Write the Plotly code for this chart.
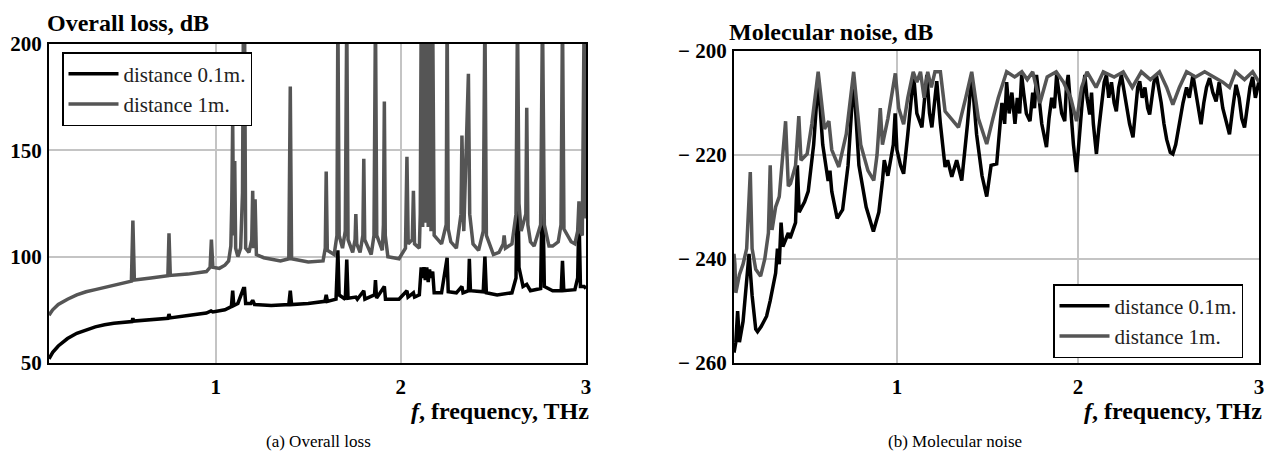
import plotly.graph_objects as go

# ---------------- data: (a) Overall loss, dB ----------------
loss_near_x = [0.10, 0.12, 0.15, 0.20, 0.25, 0.30, 0.35, 0.40, 0.45, 0.548, 0.553, 0.558, 0.65, 0.742, 0.748, 0.754,
               0.85, 0.95, 0.975, 0.985, 1.05, 1.085, 1.092, 1.098, 1.12, 1.15, 1.156, 1.162, 1.19, 1.20, 1.21, 1.30,
               1.395, 1.403, 1.41, 1.50, 1.59, 1.597, 1.604, 1.65, 1.66, 1.667, 1.70, 1.708, 1.715, 1.757, 1.765, 1.80,
               1.806, 1.858, 1.863, 1.869, 1.911, 1.917, 1.99, 2.033, 2.039, 2.068, 2.074, 2.10, 2.11, 2.118, 2.125, 2.132,
               2.14, 2.148, 2.155, 2.163, 2.172, 2.18, 2.22, 2.25, 2.256, 2.30, 2.33, 2.336, 2.365, 2.37, 2.376, 2.445,
               2.454, 2.462, 2.52, 2.60, 2.622, 2.63, 2.638, 2.66, 2.68, 2.70, 2.755, 2.765, 2.775, 2.82, 2.866, 2.873,
               2.88, 2.94, 2.955, 2.962, 2.97, 2.99, 3.00]
loss_near_y = [52, 55, 58, 61.5, 64, 65.5, 67, 68, 68.7, 69.5, 71, 69.7, 70.5, 71, 73, 71.2,
               72.3, 73.5, 74.5, 74, 75, 76.5, 84, 77, 78, 85, 85, 78, 78, 79.5, 77.5, 77,
               77.5, 84, 77.5, 78, 79, 82, 79, 80, 103, 82, 80, 98.6, 80.5, 81, 80, 84,
               80, 82, 89, 80.5, 86, 80, 80, 84, 81, 83, 81, 82, 95, 90, 95, 89,
               95, 88, 94, 90, 93, 83, 83, 99.5, 83.5, 83, 86, 83, 84, 99, 84, 83.5,
               100, 83, 82, 83, 90, 153, 95, 86, 87, 84, 85, 139, 86, 84, 84, 98,
               84, 84.5, 90, 121, 86, 86, 85]

loss_far_x = [0.10, 0.12, 0.15, 0.20, 0.25, 0.30, 0.35, 0.40, 0.45, 0.50, 0.545, 0.553, 0.561, 0.65, 0.742, 0.748,
              0.755, 0.85, 0.90, 0.95, 0.97, 0.977, 0.985, 1.02, 1.05, 1.07, 1.082, 1.087, 1.092, 1.097, 1.103, 1.108,
              1.12, 1.135, 1.145, 1.15, 1.156, 1.162, 1.18, 1.195, 1.20, 1.205, 1.213, 1.22, 1.26, 1.30, 1.35, 1.395,
              1.403, 1.41, 1.50, 1.58, 1.592, 1.597, 1.603, 1.64, 1.655, 1.66, 1.667, 1.685, 1.70, 1.708, 1.715, 1.74,
              1.753, 1.757, 1.762, 1.78, 1.795, 1.80, 1.805, 1.84, 1.855, 1.863, 1.87, 1.90, 1.906, 1.911, 1.916, 1.93,
              1.99, 2.025, 2.033, 2.04, 2.062, 2.068, 2.074, 2.10, 2.105, 2.11, 2.118, 2.125, 2.132, 2.14, 2.148, 2.155,
              2.163, 2.172, 2.18, 2.22, 2.245, 2.25, 2.256, 2.27, 2.30, 2.325, 2.33, 2.34, 2.355, 2.365, 2.372, 2.39,
              2.42, 2.445, 2.454, 2.462, 2.50, 2.53, 2.553, 2.558, 2.565, 2.60, 2.622, 2.63, 2.638, 2.65, 2.675, 2.68,
              2.686, 2.70, 2.72, 2.755, 2.765, 2.775, 2.80, 2.82, 2.85, 2.865, 2.873, 2.881, 2.92, 2.94, 2.955, 2.962,
              2.968, 2.98, 2.99, 3.00]
loss_far_y = [72.5, 75, 77.5, 80, 82, 83.5, 84.5, 85.5, 86.5, 87.5, 88.5, 117, 89, 90, 91, 111,
              91.2, 91.8, 92.3, 93, 95, 108, 95, 94.5, 96, 98, 105, 125, 164, 110, 145, 104,
              100, 104, 130, 215, 215, 104, 102, 108, 131, 104, 127, 101, 99.5, 99, 98, 99,
              180, 99, 97.5, 98, 104, 140, 103, 101, 110, 215, 110, 104, 112, 215, 108, 102,
              108, 120, 106, 102, 110, 146, 108, 101, 110, 215, 110, 103, 115, 173, 110, 100,
              99, 104, 147, 106, 108, 131, 106, 104, 120, 215, 114, 215, 116, 215, 114, 215,
              112, 215, 110, 106, 115, 215, 113, 107, 104, 120, 157, 112, 157, 186, 120, 106,
              103, 112, 215, 110, 101, 102, 106, 110, 104, 106, 120, 215, 125, 112, 120, 170,
              115, 107, 105, 115, 215, 115, 105, 105, 107, 115, 215, 113, 107, 106, 112, 126,
              112, 110, 215, 118]

# ---------------- data: (b) Molecular noise, dB ----------------
noise_near_x = [0.10, 0.11, 0.12, 0.13, 0.15, 0.17, 0.183, 0.20, 0.22, 0.23, 0.25, 0.28, 0.30, 0.33, 0.34, 0.35,
                0.36, 0.37, 0.40, 0.41, 0.44, 0.45, 0.46, 0.49, 0.51, 0.54, 0.565, 0.59, 0.62, 0.63, 0.64, 0.67,
                0.70, 0.73, 0.761, 0.79, 0.83, 0.87, 0.90, 0.92, 0.93, 0.95, 0.98, 0.99, 1.00, 1.02, 1.037, 1.06,
                1.092, 1.11, 1.138, 1.165, 1.18, 1.193, 1.22, 1.24, 1.266, 1.28, 1.303, 1.33, 1.358, 1.39, 1.413, 1.44,
                1.47, 1.496, 1.52, 1.551, 1.565, 1.58, 1.595, 1.606, 1.62, 1.635, 1.652, 1.665, 1.678, 1.689, 1.70, 1.715,
                1.735, 1.75, 1.76, 1.771, 1.785, 1.80, 1.826, 1.84, 1.855, 1.87, 1.882, 1.895, 1.91, 1.927, 1.936, 1.946,
                1.96, 1.975, 1.992, 2.005, 2.02, 2.03, 2.038, 2.05, 2.065, 2.075, 2.085, 2.102, 2.115, 2.13, 2.145, 2.157,
                2.17, 2.185, 2.20, 2.212, 2.225, 2.24, 2.255, 2.27, 2.285, 2.304, 2.32, 2.33, 2.341, 2.355, 2.37, 2.385,
                2.396, 2.41, 2.42, 2.433, 2.445, 2.46, 2.475, 2.49, 2.51, 2.524, 2.54, 2.56, 2.58, 2.60, 2.615, 2.635,
                2.65, 2.665, 2.68, 2.695, 2.71, 2.727, 2.745, 2.763, 2.78, 2.80, 2.82, 2.837, 2.855, 2.873, 2.89, 2.905,
                2.92, 2.935, 2.95, 2.965, 2.98, 3.00]
noise_near_y = [-258, -256, -250, -256, -252, -244, -239, -247, -253.5, -254, -253, -251, -248, -242.7, -238, -241,
                -233, -237.6, -235, -236, -233, -222, -231, -229, -227, -218, -205.5, -218, -225, -223, -227, -232.2,
                -230.5, -222, -205.2, -222, -230, -234.7, -231, -225, -221, -224, -218, -212, -219, -222, -223.6, -216,
                -204.6, -212, -214.7, -204.6, -212, -214.7, -205.8, -214, -222.3, -221, -224.2, -221, -224.9, -214, -204.6, -216,
                -224, -228, -222, -221.7, -216, -210, -214, -206, -212, -208, -214, -209, -212, -204.6, -208, -212,
                -213.5, -208, -211, -204.6, -209, -214, -218.5, -213, -209, -211, -204.6, -208, -212, -213.5, -207, -204.6,
                -211, -218, -223.3, -217, -210, -207, -204.6, -209, -212.2, -208, -214, -219.8, -215, -210, -206, -204.6,
                -209, -206, -210, -211.6, -207, -204.6, -208, -211, -214, -216.6, -211, -207, -205.8, -209, -207, -211,
                -212.2, -208, -206, -204.6, -207, -210, -214, -217, -219.5, -219.8, -218, -214, -210, -207, -209, -204.6,
                -208, -211, -214.1, -210, -207, -205.2, -208, -209.7, -206, -211, -214, -216, -211, -206.5, -209, -213,
                -214.7, -211, -207, -205, -209, -205.8]

noise_far_x = [0.10, 0.105, 0.11, 0.13, 0.15, 0.17, 0.19, 0.20, 0.22, 0.247, 0.27, 0.29, 0.30, 0.31, 0.33, 0.35,
               0.385, 0.40, 0.412, 0.44, 0.458, 0.47, 0.504, 0.53, 0.565, 0.60, 0.624, 0.64, 0.679, 0.72, 0.761, 0.80,
               0.84, 0.872, 0.89, 0.908, 0.92, 0.95, 0.991, 1.01, 1.037, 1.06, 1.09, 1.11, 1.13, 1.15, 1.17, 1.19,
               1.21, 1.24, 1.266, 1.30, 1.34, 1.38, 1.413, 1.45, 1.496, 1.53, 1.56, 1.606, 1.65, 1.69, 1.72, 1.75,
               1.79, 1.83, 1.88, 1.92, 1.96, 1.992, 2.02, 2.05, 2.10, 2.14, 2.20, 2.25, 2.30, 2.35, 2.40, 2.45,
               2.49, 2.524, 2.56, 2.60, 2.65, 2.70, 2.75, 2.80, 2.837, 2.87, 2.92, 2.965, 3.00]
noise_far_y = [-239, -241, -246.5, -243, -241, -238, -223.3, -238, -242, -243.3, -240, -235, -222, -234.4, -230, -228,
               -213.5, -226, -225.5, -222, -212.5, -221, -219.8, -214, -204, -215, -213.5, -219, -222.3, -216, -204, -218,
               -223, -224.9, -220, -211, -218, -213, -204.3, -211, -214.1, -209, -204, -206, -204, -209, -204, -207,
               -204, -204, -211.6, -213, -214.7, -209, -204, -213, -217.9, -213, -209, -204, -205, -204, -205.5, -204,
               -210, -205, -204, -206, -209, -213.5, -207, -204, -207, -204, -205, -204, -207, -204, -205.5, -204,
               -207, -210.3, -207, -204, -205, -204, -205, -206, -207, -204, -205.5, -204, -206]

series_names = ["distance 0.1m.", "distance 1m."]
loss_ticks = [50, 100, 150, 200]
noise_ticks = [-260, -240, -220, -200]
noise_tick_text = ["\u2212 260", "\u2212 240", "\u2212 220", "\u2212 200"]
freq_ticks = [1, 2, 3]

BLACK = "#000000"
GRAY = "#555555"
SERIF = "Liberation Serif"
W, H = 1275, 461
LW = 3.5

def px(x):
    return x / W

def py(y):
    return 1 - y / H

fig = go.Figure()
fig.add_trace(go.Scatter(x=loss_near_x, y=loss_near_y, mode="lines", name=series_names[0],
                         line=dict(color=BLACK, width=LW), xaxis="x", yaxis="y", legend="legend"))
fig.add_trace(go.Scatter(x=loss_far_x, y=loss_far_y, mode="lines", name=series_names[1],
                         line=dict(color=GRAY, width=LW), xaxis="x", yaxis="y", legend="legend"))
fig.add_trace(go.Scatter(x=noise_near_x, y=noise_near_y, mode="lines", name=series_names[0],
                         line=dict(color=BLACK, width=LW), xaxis="x2", yaxis="y2", legend="legend2"))
fig.add_trace(go.Scatter(x=noise_far_x, y=noise_far_y, mode="lines", name=series_names[1],
                         line=dict(color=GRAY, width=LW), xaxis="x2", yaxis="y2", legend="legend2"))

tickfont = dict(family=SERIF, size=21, color="black", weight="bold")
common_x = dict(range=[0.1, 3], tickvals=freq_ticks, showgrid=True, gridcolor="#c4c4c4", gridwidth=2,
                showline=True, linecolor="black", linewidth=2, mirror=True, zeroline=False,
                ticks="", tickfont=tickfont, ticklabelstandoff=4, automargin=False)
common_y = dict(showgrid=True, gridcolor="#c4c4c4", gridwidth=2, showline=True, linecolor="black",
                linewidth=2, mirror=True, zeroline=False, ticks="", tickfont=tickfont, ticklabelstandoff=1,
                automargin=False)

legend_common = dict(font=dict(family=SERIF, size=21, color="#222222"), bgcolor="white",
                     bordercolor="black", borderwidth=1.5, itemwidth=50, tracegroupgap=0,
                     xanchor="left", yanchor="top")

fig.update_layout(
    width=W, height=H, autosize=False,
    margin=dict(l=0, r=0, t=0, b=0, pad=0, autoexpand=False),
    paper_bgcolor="white", plot_bgcolor="white",
    showlegend=True,
    xaxis=dict(domain=[px(49), px(586)], anchor="y", **common_x),
    yaxis=dict(domain=[py(363), py(44)], anchor="x", range=[50, 200], tickvals=loss_ticks, **common_y),
    xaxis2=dict(domain=[px(734), px(1259)], anchor="y2", **common_x),
    yaxis2=dict(domain=[py(363), py(51)], anchor="x2", range=[-260, -200], tickvals=noise_ticks,
                ticktext=noise_tick_text, **common_y),
    legend=dict(x=px(62), y=py(52), **legend_common),
    legend2=dict(x=px(1053), y=py(284), **legend_common),
)

title_font = dict(family=SERIF, size=24, color="black", weight="bold")
xtitle_font = dict(family=SERIF, size=24, color="black", weight="bold")
annotations = [
    dict(text="Overall loss, dB", x=px(45), y=py(23), xanchor="left", yanchor="middle", font=title_font),
    dict(text="Molecular noise, dB", x=px(727), y=py(32), xanchor="left", yanchor="middle", font=title_font),
    dict(text="<i>f</i>, frequency, THz", x=px(591), y=py(411), xanchor="right", yanchor="middle", font=xtitle_font),
    dict(text="<i>f</i>, frequency, THz", x=px(1264), y=py(411), xanchor="right", yanchor="middle", font=xtitle_font),
    dict(text="(a) Overall loss", x=px(318), y=py(441), xanchor="center", yanchor="middle",
         font=dict(family=SERIF, size=17, color="black")),
    dict(text="(b) Molecular noise", x=px(955), y=py(441), xanchor="center", yanchor="middle",
         font=dict(family=SERIF, size=17, color="black")),
]
for a in annotations:
    a.update(xref="paper", yref="paper", showarrow=False)
fig.update_layout(annotations=annotations)

fig.write_html("out.html", config={"displayModeBar": False},
               post_script="document.body.style.margin='0px';document.body.style.overflow='hidden';")
